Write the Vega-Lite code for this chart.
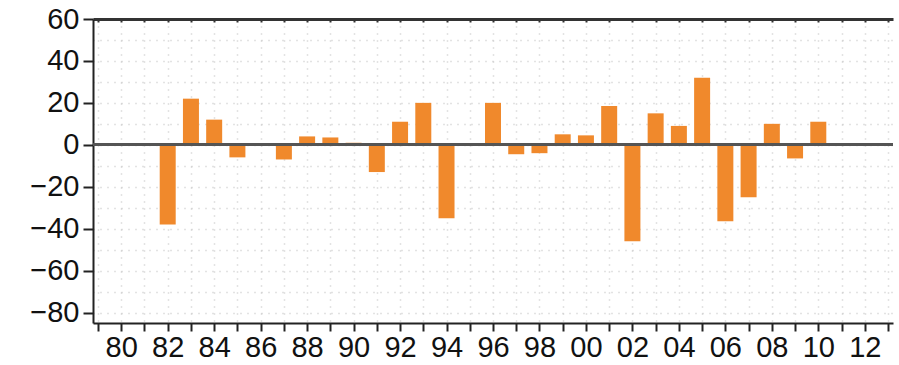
{
  "$schema": "https://vega.github.io/schema/vega-lite/v6.json",
  "width": 800,
  "height": 304,
  "autosize": {"type": "none"},
  "padding": {"left": 93, "top": 19, "right": 6, "bottom": 42},
  "background": "white",
  "config": {
    "view": {"stroke": null},
    "axis": {"labelFont": "Liberation Sans", "labelFontSize": 29, "labelColor": "#111", "domainColor": "#222", "tickColor": "#222"}
  },
  "data": {
    "values": [
      {"year": 1982, "value": -38},
      {"year": 1983, "value": 22},
      {"year": 1984, "value": 12},
      {"year": 1985, "value": -6},
      {"year": 1987, "value": -7},
      {"year": 1988, "value": 4},
      {"year": 1989, "value": 3.5},
      {"year": 1990, "value": 1},
      {"year": 1991, "value": -13},
      {"year": 1992, "value": 11},
      {"year": 1993, "value": 20},
      {"year": 1994, "value": -35},
      {"year": 1995, "value": 0.5},
      {"year": 1996, "value": 20},
      {"year": 1997, "value": -4.5},
      {"year": 1998, "value": -4},
      {"year": 1999, "value": 5},
      {"year": 2000, "value": 4.5},
      {"year": 2001, "value": 18.5},
      {"year": 2002, "value": -46},
      {"year": 2003, "value": 15},
      {"year": 2004, "value": 9},
      {"year": 2005, "value": 32},
      {"year": 2006, "value": -36.5},
      {"year": 2007, "value": -25},
      {"year": 2008, "value": 10},
      {"year": 2009, "value": -6.5},
      {"year": 2010, "value": 11}
    ]
  },
  "resolve": {"axis": {"x": "independent", "y": "independent"}},
  "layer": [
    {
      "mark": {"type": "bar", "size": 16, "color": "#F0892C"},
      "encoding": {
        "x": {
          "field": "year", "type": "quantitative",
          "scale": {"domain": [1979, 2013], "nice": false, "zero": false},
          "axis": {
            "orient": "bottom", "title": null,
            "values": [1979,1980,1981,1982,1983,1984,1985,1986,1987,1988,1989,1990,1991,1992,1993,1994,1995,1996,1997,1998,1999,2000,2001,2002,2003,2004,2005,2006,2007,2008,2009,2010,2011,2012,2013],
            "labelExpr": "datum.value % 2 == 0 ? substring(toString(datum.value), 2, 4) : ''",
            "domainWidth": 2, "tickWidth": 2, "tickSize": 8, "labelPadding": 2,
            "grid": true, "gridColor": "#c8c8c8", "gridDash": [1, 6], "gridWidth": 1.5
          }
        },
        "y": {
          "field": "value", "type": "quantitative",
          "scale": {"domain": [-85, 60], "nice": false},
          "axis": {
            "orient": "left", "title": null,
            "values": [-80,-70,-60,-50,-40,-30,-20,-10,0,10,20,30,40,50,60],
            "labelExpr": "datum.value % 20 == 0 ? replace(toString(datum.value), '-', '\u2212') : ''",
            "tickOpacity": {"condition": {"test": "datum.value % 20 != 0", "value": 0}, "value": 1},
            "domainWidth": 2, "tickWidth": 2, "tickSize": 10, "labelPadding": 4,
            "grid": true, "gridColor": "#c8c8c8", "gridDash": [1, 6], "gridWidth": 1.5
          }
        }
      }
    },
    {
      "mark": {"type": "rule", "color": "#555", "strokeWidth": 2},
      "encoding": {
        "y": {"datum": 0, "type": "quantitative", "axis": null}
      }
    },
    {
      "mark": {"type": "rule", "opacity": 0},
      "encoding": {
        "x": {
          "field": "year", "type": "quantitative",
          "axis": {
            "orient": "top", "title": null, "labels": false, "grid": false,
            "values": [1979,1980,1981,1982,1983,1984,1985,1986,1987,1988,1989,1990,1991,1992,1993,1994,1995,1996,1997,1998,1999,2000,2001,2002,2003,2004,2005,2006,2007,2008,2009,2010,2011,2012,2013],
            "domainWidth": 3, "domainColor": "#333", "tickSize": -3, "tickWidth": 2, "tickColor": "#333"
          }
        }
      }
    }
  ]
}
